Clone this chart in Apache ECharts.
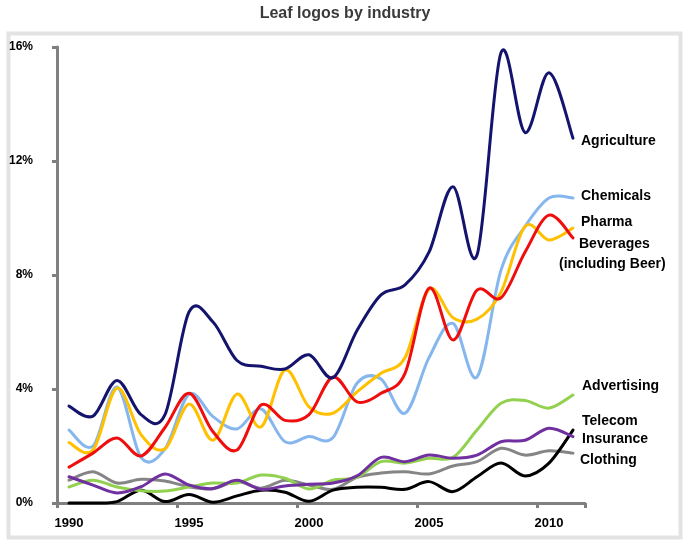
<!DOCTYPE html>
<html>
<head>
<meta charset="utf-8">
<script src="https://cdn.jsdelivr.net/npm/echarts@6/dist/echarts.min.js"></script>
<style>
html,body{margin:0;padding:0;background:#fff;}
#chart{width:690px;height:547px;}
</style>
</head>
<body>
<div id="chart"></div>
<script>
var years = ['1990','1991','1992','1993','1994','1995','1996','1997','1998','1999','2000','2001','2002','2003','2004','2005','2006','2007','2008','2009','2010','2011'];
var yTicks = [0, 4, 8, 12, 16];

var agriculture = [3.4,3.05,4.3,3.1,3.1,6.7,6.35,5.0,4.8,4.7,5.2,4.4,6.05,7.3,7.65,8.8,11.1,8.7,15.8,13.0,15.1,12.8];
var chemicals   = [2.56,2.0,4.07,1.6,1.9,3.82,3.03,2.6,3.3,2.15,2.33,2.3,4.2,4.35,3.15,5.1,6.3,4.42,8.17,9.7,10.7,10.7];
var pharma      = [1.26,1.75,2.28,1.65,2.65,3.85,2.5,1.86,3.44,2.9,3.1,4.42,3.55,3.85,4.55,7.54,5.72,7.47,7.2,8.8,10.1,9.3];
var beverages   = [2.12,1.86,4.03,2.4,1.9,3.47,2.2,3.82,2.67,4.67,3.37,3.15,3.9,4.55,5.1,7.5,6.5,6.45,7.4,9.7,9.23,9.65];
var advertising = [0.56,0.8,0.56,0.43,0.42,0.56,0.7,0.7,0.98,0.87,0.49,0.8,0.9,1.45,1.4,1.57,1.6,2.56,3.5,3.6,3.33,3.79];
var telecom     = [0.92,0.63,0.35,0.57,1.02,0.63,0.51,0.8,0.48,0.6,0.66,0.7,0.95,1.6,1.45,1.68,1.57,1.68,2.15,2.2,2.62,2.33];
var insurance   = [0,0,0.05,0.45,0.05,0.3,0.03,0.25,0.45,0.38,0.06,0.45,0.55,0.55,0.48,0.75,0.4,0.92,1.4,0.95,1.4,2.56];
var clothing    = [0.8,1.1,0.7,0.83,0.77,0.57,0.5,0.75,0.52,0.8,0.63,0.48,0.9,1.05,1.1,1.02,1.3,1.45,1.92,1.68,1.83,1.75];

var labelNames = ['Agriculture','Chemicals','Pharma','Beverages','(including Beer)','Advertising','Telecom','Insurance','Clothing'];

var chart = echarts.init(document.getElementById('chart'), null, {renderer:'canvas'});

// Smooth curve (Catmull-Rom style Bezier) drawn through the data via the axis scales
function smoothLine(name, values, color, z) {
  return {
    name: name, type: 'custom', coordinateSystem: 'cartesian2d', z: z,
    data: values.map(function(v, i){ return [i, v]; }),
    encode: {x: 0, y: 1},
    silent: true,
    renderItem: function(params, api) {
      if (params.dataIndex !== 0) return null;
      var pts = values.map(function(v, i){ return api.coord([i, v]); });
      var n = pts.length;
      var d = 'M' + pts[0][0] + ' ' + pts[0][1];
      for (var i = 0; i < n - 1; i++) {
        var p0 = pts[Math.max(i - 1, 0)], p1 = pts[i], p2 = pts[i + 1], p3 = pts[Math.min(i + 2, n - 1)];
        var c1x = p1[0] + (p2[0] - p0[0]) / 6, c1y = p1[1] + (p2[1] - p0[1]) / 6;
        var c2x = p2[0] - (p3[0] - p1[0]) / 6, c2y = p2[1] - (p3[1] - p1[1]) / 6;
        d += ' C' + c1x + ' ' + c1y + ' ' + c2x + ' ' + c2y + ' ' + p2[0] + ' ' + p2[1];
      }
      return {
        type: 'path',
        shape: {pathData: d},
        style: {fill: null, stroke: color, lineWidth: 3, lineJoin: 'round', lineCap: 'round'}
      };
    }
  };
}

var labelFont = 'bold 14px "Liberation Sans", Arial, sans-serif';
function lbl(text, x, y) {
  return {type: 'text', x: x, y: y, z: 100,
    style: {text: text, font: labelFont, fill: '#000', verticalAlign: 'middle', align: 'left'}};
}

chart.setOption({
  animation: false,
  backgroundColor: '#fff',
  title: {
    text: 'Leaf logos by industry',
    left: 'center', top: 1,
    textStyle: {fontFamily: 'Liberation Sans, Arial, sans-serif', fontWeight: 'bold', fontSize: 16, color: '#3a3a3a'}
  },
  grid: {left: 57, right: 105, top: 47, bottom: 44},
  xAxis: {
    type: 'category', data: years, boundaryGap: true,
    axisLine: {lineStyle: {color: '#808080', width: 3}},
    axisTick: {show: true, length: 5, lineStyle: {color: '#808080', width: 3},
      interval: function(i){ return i % 5 === 0; }},
    axisLabel: {interval: function(i){ return i % 5 === 0; }, margin: 14,
      fontFamily: 'Liberation Sans, Arial, sans-serif', fontWeight: 'bold', fontSize: 13, color: '#000'},
    splitLine: {show: false}
  },
  yAxis: {
    type: 'value', min: yTicks[0], max: yTicks[yTicks.length-1], interval: 4,
    axisLine: {show: true, lineStyle: {color: '#808080', width: 3}},
    axisTick: {show: true, length: 5, lineStyle: {color: '#808080', width: 3}},
    axisLabel: {formatter: '{value}%', margin: 24,
      fontFamily: 'Liberation Sans, Arial, sans-serif', fontWeight: 'bold', fontSize: 12, color: '#000'},
    splitLine: {show: false}
  },
  graphic: [
    {type: 'rect', shape: {x: 8.5, y: 33.5, width: 672, height: 504}, style: {fill: 'none', stroke: '#e3e3e3', lineWidth: 4}, z: -1},
    lbl(labelNames[0], 581, 141),
    lbl(labelNames[1], 581, 196),
    lbl(labelNames[2], 581, 222),
    lbl(labelNames[3], 579, 244),
    lbl(labelNames[4], 559, 264),
    lbl(labelNames[5], 582, 386),
    lbl(labelNames[6], 582, 421),
    lbl(labelNames[7], 582, 439),
    lbl(labelNames[8], 580, 460)
  ],
  series: [
    smoothLine('Clothing', clothing, '#858585', 2),
    smoothLine('Insurance', insurance, '#000000', 3),
    smoothLine('Advertising', advertising, '#92D050', 4),
    smoothLine('Telecom', telecom, '#7030A0', 5),
    smoothLine('Chemicals', chemicals, '#85B6EE', 6),
    smoothLine('Beverages', beverages, '#FFC000', 7),
    smoothLine('Pharma', pharma, '#F00D0D', 8),
    smoothLine('Agriculture', agriculture, '#14146E', 9)
  ]
});
</script>
</body>
</html>
